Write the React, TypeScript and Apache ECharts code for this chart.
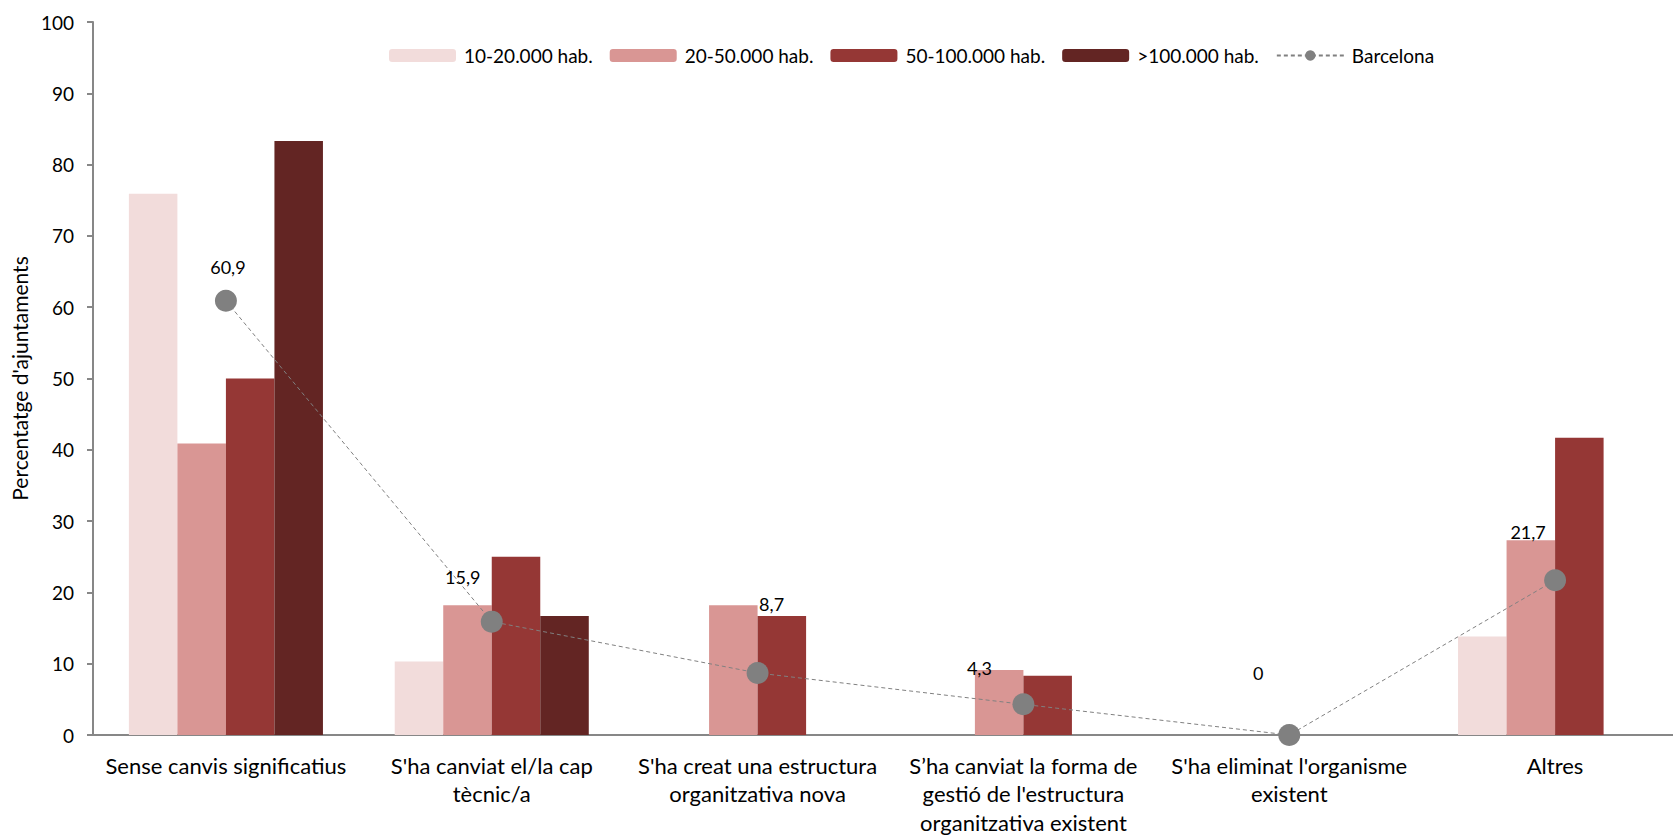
import React, { useEffect, useRef } from "react";
import * as echarts from "echarts";

const categories = [
  "Sense canvis significatius",
  "S'ha canviat el/la cap\ntècnic/a",
  "S'ha creat una estructura\norganitzativa nova",
  "S’ha canviat la forma de\ngestió de l'estructura\norganitzativa existent",
  "S'ha eliminat l'organisme\nexistent",
  "Altres",
];

const seriesNames = ["10-20.000 hab.", "20-50.000 hab.", "50-100.000 hab.", ">100.000 hab."];
const hab10_20 = [75.9, 10.3, null, null, null, 13.8];
const hab20_50 = [40.9, 18.2, 18.2, 9.1, null, 27.3];
const hab50_100 = [50.0, 25.0, 16.7, 8.3, null, 41.7];
const hab100 = [83.3, 16.7, null, null, null, null];
const barcelonaName = "Barcelona";
const barcelona = [60.9, 15.9, 8.7, 4.3, 0, 21.7];
const yTicks = { min: 0, max: 100, interval: 10 };

const barColors = ["#F2DCDB", "#D99694", "#953735", "#632523"];
const labelOffsets = [
  [2, -34],
  [-29, -45],
  [14, -69],
  [-44, -36],
  [-31, -62],
  [-27, -48],
];

const FONT = "Lato, 'Open Sans', sans-serif";

export default function App() {
  const ref = useRef<HTMLDivElement>(null);
  useEffect(() => {
    if (!ref.current) return;
    const chart = echarts.init(ref.current, null, { renderer: "svg" });
    const barData = [hab10_20, hab20_50, hab50_100, hab100];
    const option: any = {
      animation: false,
      backgroundColor: "#ffffff",
      textStyle: { fontFamily: FONT },
      grid: {
        left: 93,
        top: 22,
        right: -15,
        bottom: 101,
        containLabel: false,
        outerBoundsMode: "none",
      },
      legend: {
        left: 384,
        top: 41,
        itemWidth: 67,
        itemHeight: 13,
        itemGap: 17,
        textStyle: { fontFamily: FONT, fontSize: 19, color: "#000", padding: [0, 0, 0, 3] },
        data: [...seriesNames, barcelonaName],
      },
      xAxis: {
        type: "category",
        data: categories,
        axisLine: { lineStyle: { color: "#878787", width: 2 } },
        axisTick: { show: false },
        axisLabel: {
          interval: 0,
          fontFamily: FONT,
          fontSize: 22,
          color: "#000",
          lineHeight: 28.5,
          margin: 16,
        },
      },
      yAxis: {
        type: "value",
        min: yTicks.min,
        max: yTicks.max,
        interval: yTicks.interval,
        name: "Percentatge d'ajuntaments",
        nameLocation: "middle",
        nameGap: 57,
        nameRotate: 90,
        nameTextStyle: { fontFamily: FONT, fontSize: 21, color: "#000" },
        axisLine: { show: true, lineStyle: { color: "#878787", width: 2 } },
        axisTick: { show: true, length: 6, lineStyle: { color: "#878787", width: 2 } },
        axisLabel: { fontFamily: FONT, fontSize: 19, color: "#000", margin: 19 },
        splitLine: { show: false },
      },
      series: [
        ...seriesNames.map((name, i) => ({
          name,
          type: "bar",
          data: barData[i],
          barGap: "0%",
          barCategoryGap: "27%",
          itemStyle: { color: barColors[i] },
        })),
        {
          name: barcelonaName,
          type: "line",
          data: barcelona.map((v, i) => ({
            value: v,
            label: { offset: labelOffsets[i] },
          })),
          symbol: "circle",
          symbolSize: 22,
          itemStyle: { color: "#808080" },
          lineStyle: { color: "#808080", width: 1, type: [4, 3] },
          z: 5,
          label: {
            show: true,
            position: "inside",
            fontFamily: FONT,
            fontSize: 18,
            color: "#000",
            formatter: (p: any) => String(p.value).replace(".", ","),
          },
        },
      ],
    };
    chart.setOption(option);
    return () => chart.dispose();
  }, []);
  return (
    <div
      ref={ref}
      style={{ position: "fixed", left: 0, top: 0, width: 1673, height: 836, overflow: "hidden" }}
    />
  );
}
